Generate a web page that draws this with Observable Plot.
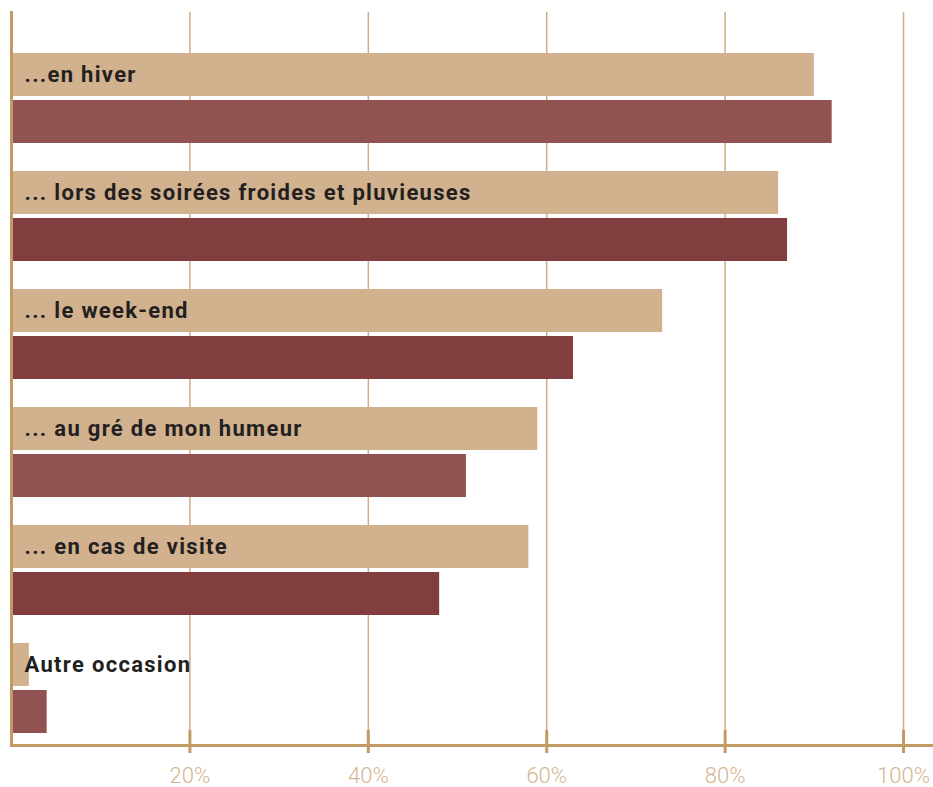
<!DOCTYPE html>
<html>
<head>
<meta charset="utf-8">
<script src="https://cdn.jsdelivr.net/npm/d3@7"></script>
<script src="https://cdn.jsdelivr.net/npm/@observablehq/plot@0.6"></script>
<style>
  html, body { margin: 0; padding: 0; background: #ffffff; }
  #chart svg { display: block; }
  #chart g[aria-label="text"] text { letter-spacing: 1.3px; }
</style>
</head>
<body>
<div id="chart"></div>
<script>
const categories = [
  "...en hiver",
  "... lors des soirées froides et pluvieuses",
  "... le week-end",
  "... au gré de mon humeur",
  "... en cas de visite",
  "Autre occasion"
];
const seriesLight = [90, 86, 73, 59, 58, 2];
const seriesDark = [92, 87, 63, 51, 48, 4];
const ticks = [20, 40, 60, 80, 100];

const darkColors = ["#915252", "#823d3e", "#823d3e", "#915252", "#823d3e", "#915252"];
const rows = categories.map((c, i) => ({cat: c, light: seriesLight[i], dark: seriesDark[i], color: darkColors[i]}));

const tan = "#c49a64";
const chart = Plot.plot({
  width: 933,
  height: 787,
  marginLeft: 11,
  marginRight: 0,
  marginTop: 12,
  marginBottom: 42,
  style: {background: "#ffffff", fontFamily: "Roboto, sans-serif"},
  x: {domain: [0, 103.36], axis: null},
  y: {domain: categories, range: [53, 733], paddingInner: 28 / 118, paddingOuter: 0, align: 0, axis: null},
  marks: [
    Plot.ruleX(ticks, {x: d => d, stroke: "#d2ad85", strokeWidth: 1.5}),
    Plot.barX(rows, {x: "light", y: "cat", fill: "#d1b18e", insetBottom: 47}),
    Plot.barX(rows, {x: "dark", y: "cat", fill: "color", insetTop: 47}),
    Plot.frame({anchor: "left", stroke: tan, strokeWidth: 3}),
    Plot.frame({anchor: "bottom", stroke: tan, strokeWidth: 3}),
    Plot.ruleX(ticks, {x: d => d, stroke: tan, strokeWidth: 3, insetTop: 718, insetBottom: -8}),
    Plot.axisX(ticks, {tickSize: 0, tickPadding: 22, tickFormat: d => d + "%", fontSize: 22, fontWeight: 300, fill: "#d6b48f", stroke: null}),
    Plot.text(rows, {x: 0, y: "cat", text: "cat", dx: 13, dy: -23.5, textAnchor: "start", fontSize: 22, fontWeight: 700, fill: "#231f20"})
  ]
});
document.getElementById("chart").append(chart);
</script>
</body>
</html>
